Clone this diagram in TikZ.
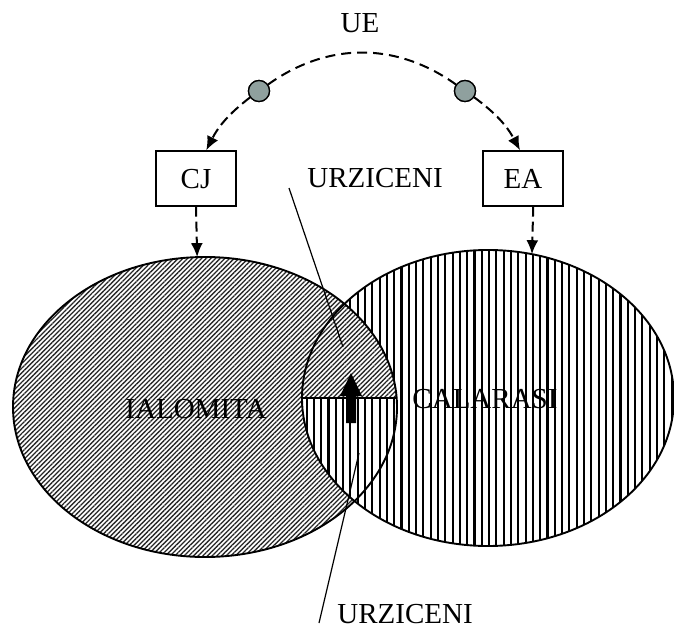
\documentclass[tikz,border=0pt]{standalone}
\usepackage{fontspec}
\setmainfont{Liberation Serif}
\usetikzlibrary{arrows.meta,patterns.meta,shapes.geometric}
\definecolor{dotgray}{RGB}{143,160,158}
\tikzset{
  diag/.style={pattern={Lines[angle=45,distance=3.3pt,line width=1.3pt]},pattern color=black!85},
  vert/.style={pattern={Lines[angle=90,distance=7.3pt,line width=2.1pt]},pattern color=black},
  region/.style={ellipse,inner sep=0pt,outer sep=0pt},
  boxnode/.style={draw,line width=1.3pt,minimum width=80pt,minimum height=55pt,inner sep=0pt,text height=20pt,text depth=0pt},
  lbl/.style={anchor=base,inner sep=0pt},
  dotnode/.style={circle,draw,line width=1.3pt,fill=dotgray,minimum size=21pt,inner sep=0pt},
  conn/.style={line width=2pt,dash pattern=on 10pt off 5pt,-{Latex[length=14pt,width=12pt]}},
  arcline/.style={line width=2pt,dash pattern=on 10pt off 6pt},
  leader/.style={line width=1.2pt}
}
\begin{document}
\begin{tikzpicture}[x=1pt,y=-1pt,font=\fontsize{29}{32}\selectfont]
\useasboundingbox (0,0) rectangle (674,628);
% regions
\node[region,minimum width=384pt,minimum height=300pt,diag] (ial) at (205,407) {};
\node[region,minimum width=372pt,minimum height=296pt,preaction={fill=white},vert] (cal) at (488,398) {};
% lens upper half
\begin{scope}
  \clip (ial.center) ellipse [x radius=192pt,y radius=150pt];
  \clip (cal.center) ellipse [x radius=186pt,y radius=148pt];
  \clip (0,0) rectangle (674,398);
  \fill[white] (0,0) rectangle (674,398);
  \fill[diag] (0,0) rectangle (674,398);
\end{scope}
% outlines
\draw[line width=1.9pt] (ial.center) ellipse [x radius=192pt,y radius=150pt];
\draw[line width=1.9pt] (cal.center) ellipse [x radius=186pt,y radius=148pt];
\draw[line width=1.3pt] (cal.west) -- (cal.west -| ial.east);
% labels in regions
\node[lbl] (ialtxt) at (196,418) {IALOMITA};
\node[lbl] (caltxt) at (485,408) {CALARASI};
% big arrow
\fill (346,423) -- (356,423) -- (356,396) -- (362,396) -- (351,373) -- (340,396) -- (346,396) -- cycle;
% boxes
\node[boxnode] (CJ) at (196,178.5) {CJ};
\node[boxnode] (EA) at (523,178.5) {EA};
\node[lbl] (ue) at (360,33) {UE};
\node[lbl] (urz1) at (375,188) {URZICENI};
\node[lbl] (urz2) at (405,623) {URZICENI};
% dots and arc
\node[dotnode] (d1) at (259,91) {};
\node[dotnode] (d2) at (465,91) {};
\draw[arcline] (d1) to[bend left=35.6] (d2);
\draw[conn] (d1) to[bend right=12.7] (CJ.70);
\draw[conn] (d2) to[bend left=12.7] (EA.96);
\node[dotnode] at (d1) {};
\node[dotnode] at (d2) {};
% box to region arrows
\draw[conn] (CJ.south) -- (ial.93);
\draw[conn] (EA.-70) -- (cal.73);
% leaders
\coordinate (l1a) at (289,188);
\coordinate (l1b) at (343,347);
\coordinate (l2a) at (319,623);
\coordinate (l2b) at (359,453);
\draw[leader] (l1a) -- (l1b);
\draw[leader] (l2a) -- (l2b);
\end{tikzpicture}
\end{document}
